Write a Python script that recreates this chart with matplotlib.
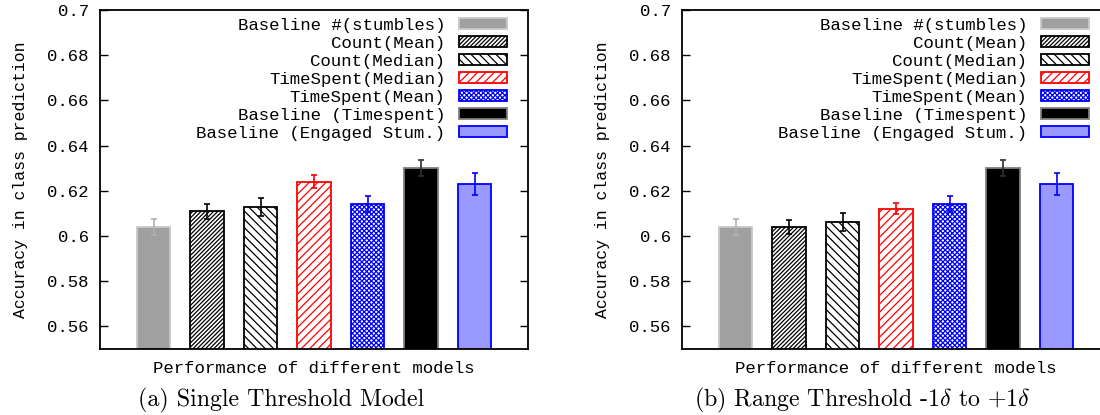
import numpy as np
import matplotlib
matplotlib.use("Agg")
import matplotlib.pyplot as plt

# values
models = ['Baseline #(stumbles)', 'Count(Mean)', 'Count(Median)', 'TimeSpent(Median)',
          'TimeSpent(Mean)', 'Baseline (Timespent)', 'Baseline (Engaged Stum.)']
acc_single = [0.604, 0.611, 0.613, 0.624, 0.614, 0.630, 0.623]
err_single = [0.0035, 0.0033, 0.0040, 0.0028, 0.0036, 0.0035, 0.0047]
acc_range = [0.604, 0.604, 0.606, 0.612, 0.614, 0.630, 0.623]
err_range = [0.0035, 0.0033, 0.0040, 0.0024, 0.0036, 0.0035, 0.0047]
yticks = [0.56, 0.58, 0.6, 0.62, 0.64, 0.66, 0.68, 0.7]
yticklabels = ['0.56', '0.58', '0.6', '0.62', '0.64', '0.66', '0.68', '0.7']

# per-bar styles (gnuplot look)
faces = ['#a0a0a0', 'white', 'white', 'white', 'white', 'black', '#9999ff']
edges = ['#c8c8c8', 'black', 'black', 'red', 'blue', '#808080', 'blue']
hatches = [None, '////////', '\\\\\\\\', '////', 'xxxxxxx', None, None]
ecolors = ['#b0b0b0', 'black', 'black', 'red', 'blue', '#303030', 'blue']

plt.rcParams['font.family'] = ['Liberation Mono', 'DejaVu Sans']
plt.rcParams['mathtext.fontset'] = 'cm'
plt.rcParams['hatch.linewidth'] = 0.9
fs = 12.5

fig = plt.figure(figsize=(11, 4.15), dpi=100)
W, H = 1100, 415


def draw_panel(left_px, values, errors, caption, cap_x):
    ax = fig.add_axes([left_px / W, (H - 349) / H, 428 / W, 339 / H])
    x = np.arange(1, len(values) + 1)
    for i in range(len(values)):
        ax.bar(x[i], values[i], width=0.62, color=faces[i], edgecolor=edges[i],
               hatch=hatches[i], linewidth=1.3, label=models[i], zorder=2)
        ax.errorbar(x[i], values[i], yerr=errors[i], fmt='none', ecolor=ecolors[i],
                    elinewidth=1.2, capsize=2.5, capthick=1.2, zorder=3)
    ax.set_xlim(0, 8)
    ax.set_ylim(0.55, 0.7)
    ax.set_xticks([])
    ax.set_yticks(yticks)
    ax.set_yticklabels(yticklabels, fontsize=fs)
    ax.tick_params(axis='y', direction='in', length=6, width=1, right=True, pad=8)
    for s in ax.spines.values():
        s.set_linewidth(1.3)
    ax.set_ylabel('Accuracy in class prediction', fontsize=fs * 0.95)
    ax.yaxis.set_label_coords(-0.169, 0.5)
    ax.set_xlabel('Performance of different models', fontsize=fs)
    ax.xaxis.set_label_coords(0.5, -0.035)
    ax.legend(loc='upper right', bbox_to_anchor=(407 / 428, 1 - 8 / 339),
              frameon=False, markerfirst=False, fontsize=fs, borderpad=0,
              borderaxespad=0, handlelength=2.75, handleheight=0.6,
              handletextpad=0.8, labelspacing=0.17)
    fig.text(cap_x / W, 1 - 400 / H, caption, fontsize=17.2, family='cmr10',
             ha='center', va='center')
    return ax


draw_panel(100, acc_single, err_single, '(a) Single Threshold Model', 281)
draw_panel(682, acc_range, err_range, r'(b) Range Threshold -1$\delta$ to +1$\delta$', 862)

fig.savefig('out.png', dpi=100)
